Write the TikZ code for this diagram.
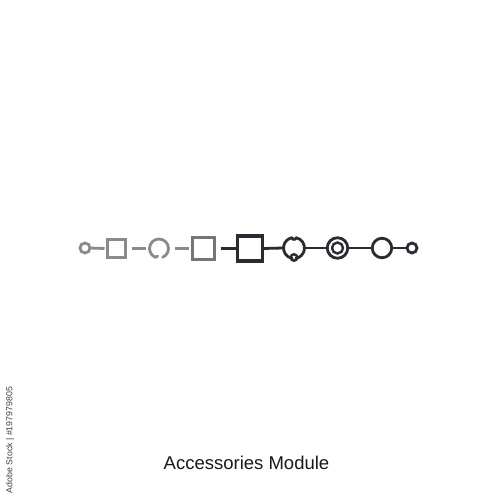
\documentclass[tikz,border=0pt]{standalone}
\usepackage{fontspec}
\setmainfont{Liberation Sans}
\definecolor{gA}{HTML}{8A8A8A}
\definecolor{gB}{HTML}{767676}
\definecolor{dk}{HTML}{2A2B33}
\tikzset{
  ring/.style={circle, draw, inner sep=0pt, outer sep=0pt},
  sq/.style={rectangle, draw, inner sep=0pt, outer sep=0pt},
  anchorpt/.style={circle, inner sep=0pt, outer sep=0pt},
  conn/.style={line width=2.8pt}
}
\begin{document}
\begin{tikzpicture}[x=1pt,y=-1pt, line width=2.8pt]
\useasboundingbox[fill=white] (0,0) rectangle (500,500);
% gray part
\node[ring, gA, minimum size=10pt] (c1) at (85,248) {};
\node[sq, gA, minimum size=18pt] (s1) at (116.5,248.5) {};
\node[anchorpt, minimum size=19pt] (b1) at (159,248.5) {};
\node[sq, gB, minimum size=22pt] (s2) at (203.5,248.5) {};
% dark part
\node[sq, dk, line width=3.2pt, minimum size=25pt] (s3) at (250,248.5) {};
\node[anchorpt, minimum size=22pt] (b2) at (294,248) {};
\node[ring, dk, minimum size=20.5pt] (d1) at (337.5,248) {};
\node[circle, draw=dk, inner sep=0pt, line width=2.4pt, minimum size=11pt] (d1in) at (d1.center) {};
\node[ring, dk, minimum size=19.5pt] (c2) at (382,248) {};
\node[ring, dk, minimum size=10pt] (c3) at (412,248) {};
% broken circle 1 (gap at bottom)
\draw[gA, line cap=round] ([shift={(112:9.5)}]b1.center) arc[start angle=112, end angle=428, radius=9.5];
\draw[gA, line cap=round] ([shift={(112:9.5)}]b1.center) -- ++(2.2,-1.2);
% broken circle 2 (gaps top and bottom, small ring at bottom)
\draw[dk, line cap=round] ([shift={(100:10.5)}]b2.center) arc[start angle=100, end angle=258, radius=10.5];
\draw[dk, line cap=round] ([shift={(282:10.5)}]b2.center) arc[start angle=282, end angle=440, radius=10.5];
\draw[dk, line cap=round] ([shift={(258:10.5)}]b2.center) -- ++(1.6,1.9);
\draw[dk, line cap=round] ([shift={(282:10.5)}]b2.center) -- ++(-1.6,1.9);
\node[circle, draw=dk, line width=2.4pt, inner sep=0pt, minimum size=6.5pt] (b2s) at ([yshift=-9.5pt]b2.center) {};
% connectors
\draw[conn, gA] (c1.east) -- ([xshift=-3pt]s1.west);
\draw[conn, gA] ([xshift=6pt]s1.east) -- ([xshift=-4pt]b1.west);
\draw[conn, gA] ([xshift=6pt]b1.east) -- ([xshift=-4pt]s2.west);
\draw[conn, dk] ([xshift=6pt]s2.east) -- (s3.west);
\draw[conn, dk] (s3.east) -- (b2.west);
\draw[conn, dk] (b2.east) -- (d1.west);
\draw[conn, dk] (d1.east) -- (c2.west);
\draw[conn, dk] (c2.east) -- (c3.west);
% caption
\node[text=black!90, font=\fontsize{18.5}{20}\selectfont] (cap) at (246.5,463) {Accessories Module};
% watermark
\node[rotate=90, text=black!75, font=\fontsize{8.8}{10}\selectfont] (wm) at (10,440) {Adobe Stock | \#197979805};
\end{tikzpicture}
\end{document}
